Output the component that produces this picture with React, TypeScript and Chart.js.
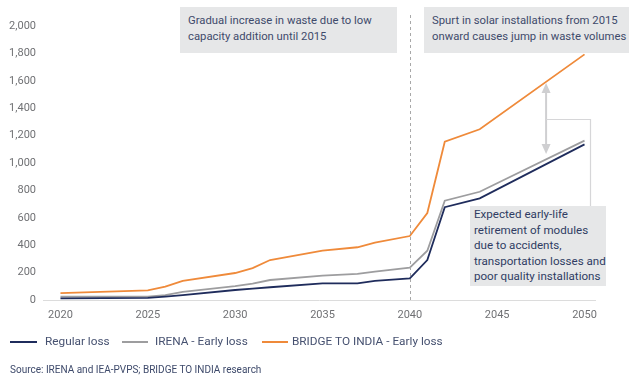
import React, { useEffect, useRef } from "react";
import { Chart, registerables } from "chart.js";

Chart.register(...registerables);

const years = [2020, 2025, 2026, 2027, 2030, 2031, 2032, 2035, 2037, 2038, 2040, 2041, 2042, 2044, 2050];
const regularLoss = [12, 15, 24, 35, 73, 83, 93, 122, 122, 139, 158, 292, 677, 742, 1136];
const irenaEarly = [24, 25, 36, 60, 102, 120, 146, 178, 190, 207, 236, 360, 725, 790, 1163];
const bridgeEarly = [50, 70, 97, 140, 197, 233, 292, 360, 385, 418, 467, 635, 1155, 1246, 1793];
const xTicks = [2020, 2025, 2030, 2035, 2040, 2045, 2050];
const yTicks = [0, 200, 400, 600, 800, 1000, 1200, 1400, 1600, 1800, 2000];

const seriesNames = ["Regular loss", "IRENA - Early loss", "BRIDGE TO INDIA - Early loss"];
const seriesColors = ["#1f2c5c", "#9d9d9f", "#ef8a3a"];

const annotationTop = ["Gradual increase in waste due to low", "capacity addition until 2015"];
const annotationRight = ["Spurt in solar installations from 2015", "onward causes jump in waste volumes"];
const annotationBottom = [
  "Expected early-life",
  "retirement of modules",
  "due to accidents,",
  "transportation losses and",
  "poor quality installations",
];
const sourceText = "Source: IRENA and IEA-PVPS; BRIDGE TO INDIA research";

const FONT = "Roboto, 'Open Sans', sans-serif";

const overlayPlugin = {
  id: "overlay",
  afterDatasetsDraw(chart: any) {
    const { ctx, scales, chartArea } = chart;
    const x = scales.x;
    const y = scales.y;
    ctx.save();
    const xd = Math.round(x.getPixelForValue(2040)) + 0.5;
    ctx.strokeStyle = "#a8a8a8";
    ctx.lineWidth = 1;
    ctx.setLineDash([3, 3]);
    ctx.beginPath();
    ctx.moveTo(xd, 15);
    ctx.lineTo(xd, chartArea.bottom);
    ctx.stroke();
    ctx.setLineDash([]);

    const xa = x.getPixelForValue(2047.8);
    const yTop = y.getPixelForValue(1570);
    const yBot = y.getPixelForValue(1080);
    ctx.strokeStyle = "#cfcfd1";
    ctx.fillStyle = "#cfcfd1";
    ctx.lineWidth = 2;
    ctx.beginPath();
    ctx.moveTo(xa, yTop + 6);
    ctx.lineTo(xa, yBot - 6);
    ctx.stroke();
    ctx.beginPath();
    ctx.moveTo(xa, yTop - 2);
    ctx.lineTo(xa - 4.5, yTop + 8);
    ctx.lineTo(xa + 4.5, yTop + 8);
    ctx.closePath();
    ctx.fill();
    ctx.beginPath();
    ctx.moveTo(xa, yBot + 2);
    ctx.lineTo(xa - 4.5, yBot - 8);
    ctx.lineTo(xa + 4.5, yBot - 8);
    ctx.closePath();
    ctx.fill();

    const yb = Math.round(y.getPixelForValue(1321)) + 0.5;
    const xr = Math.round(x.getPixelForValue(2050.3)) + 0.5;
    const yEnd = y.getPixelForValue(679);
    ctx.strokeStyle = "#d6d6d8";
    ctx.lineWidth = 1.2;
    ctx.beginPath();
    ctx.moveTo(xa, yb);
    ctx.lineTo(xr, yb);
    ctx.lineTo(xr, yEnd);
    ctx.stroke();
    ctx.restore();
  },
};

export default function App() {
  const ref = useRef<HTMLCanvasElement>(null);

  useEffect(() => {
    if (!ref.current) return;
    const mk = (vals: number[]) => years.map((yr, i) => ({ x: yr, y: vals[i] }));
    const chart = new Chart(ref.current, {
      type: "line",
      data: {
        datasets: [
          { label: seriesNames[0], data: mk(regularLoss), borderColor: seriesColors[0], borderWidth: 1.8 },
          { label: seriesNames[1], data: mk(irenaEarly), borderColor: seriesColors[1], borderWidth: 1.8 },
          { label: seriesNames[2], data: mk(bridgeEarly), borderColor: seriesColors[2], borderWidth: 1.8 },
        ],
      },
      options: {
        animation: false,
        responsive: false,
        devicePixelRatio: 1,
        elements: { point: { radius: 0 }, line: { tension: 0 } },
        layout: { padding: { left: 0, right: 34, top: 26, bottom: 47 } },
        plugins: { legend: { display: false }, tooltip: { enabled: false } },
        scales: {
          x: {
            type: "linear",
            min: 2019,
            max: 2050.6,
            afterBuildTicks: (s: any) => {
              s.ticks = xTicks.map((v) => ({ value: v }));
            },
            afterFit: (s: any) => {
              s.height = 30;
            },
            grid: { display: false, drawTicks: false },
            border: { display: true, color: "#dcdcdc", width: 1 },
            ticks: {
              padding: 9,
              maxRotation: 0,
              color: "#707174",
              font: { family: FONT, size: 11 },
              callback: (v: any) => String(v),
            },
          },
          y: {
            min: 0,
            max: 2000,
            afterBuildTicks: (s: any) => {
              s.ticks = yTicks.map((v) => ({ value: v }));
            },
            afterFit: (s: any) => {
              s.width = 43;
            },
            grid: { display: false, drawTicks: false },
            border: { display: false },
            ticks: {
              padding: 7,
              color: "#707174",
              font: { family: FONT, size: 11 },
              callback: (v: any) => Number(v).toLocaleString("en-US"),
            },
          },
        },
      },
      plugins: [overlayPlugin],
    });
    return () => chart.destroy();
  }, []);

  const boxStyle: React.CSSProperties = {
    position: "absolute",
    background: "#e6e7e8",
    color: "#3e4a6b",
    fontFamily: FONT,
    fontSize: 11.3,
    lineHeight: "16px",
    boxSizing: "border-box",
    whiteSpace: "nowrap",
  };

  const legendLines = [
    { x1: 10, x2: 37, tx: 45 },
    { x1: 122, x2: 148, tx: 155 },
    { x1: 262, x2: 288, tx: 292 },
  ];

  return (
    <div style={{ position: "fixed", left: 0, top: 0, width: 629, height: 377, background: "#fff", overflow: "hidden" }}>
      <canvas ref={ref} width={629} height={377} style={{ position: "absolute", left: 0, top: 0 }} />
      <div style={{ ...boxStyle, left: 180, top: 7, width: 217, height: 46, padding: "6px 8px" }}>
        {annotationTop.map((l) => (
          <div key={l}>{l}</div>
        ))}
      </div>
      <div style={{ ...boxStyle, left: 424, top: 7, width: 205, height: 46, padding: "6px 8px" }}>
        {annotationRight.map((l) => (
          <div key={l}>{l}</div>
        ))}
      </div>
      <div
        style={{
          ...boxStyle,
          left: 470,
          top: 206,
          width: 136,
          height: 80,
          padding: "1px 4px",
          fontSize: 11.6,
          lineHeight: "15.5px",
          color: "#2f3c63",
        }}
      >
        {annotationBottom.map((l) => (
          <div key={l}>{l}</div>
        ))}
      </div>
      {seriesNames.map((n, i) => (
        <React.Fragment key={n}>
          <div
            style={{
              position: "absolute",
              left: legendLines[i].x1,
              top: 341,
              width: legendLines[i].x2 - legendLines[i].x1,
              height: 1.6,
              background: seriesColors[i],
            }}
          />
          <div
            style={{
              position: "absolute",
              left: legendLines[i].tx,
              top: 333,
              fontFamily: FONT,
              fontSize: 11.8,
              lineHeight: "17px",
              color: "#465170",
              whiteSpace: "nowrap",
            }}
          >
            {n}
          </div>
        </React.Fragment>
      ))}
      <div style={{ position: "absolute", left: 10, top: 364, fontFamily: FONT, fontSize: 10, color: "#3e4a6b", whiteSpace: "nowrap" }}>
        {sourceText}
      </div>
    </div>
  );
}
